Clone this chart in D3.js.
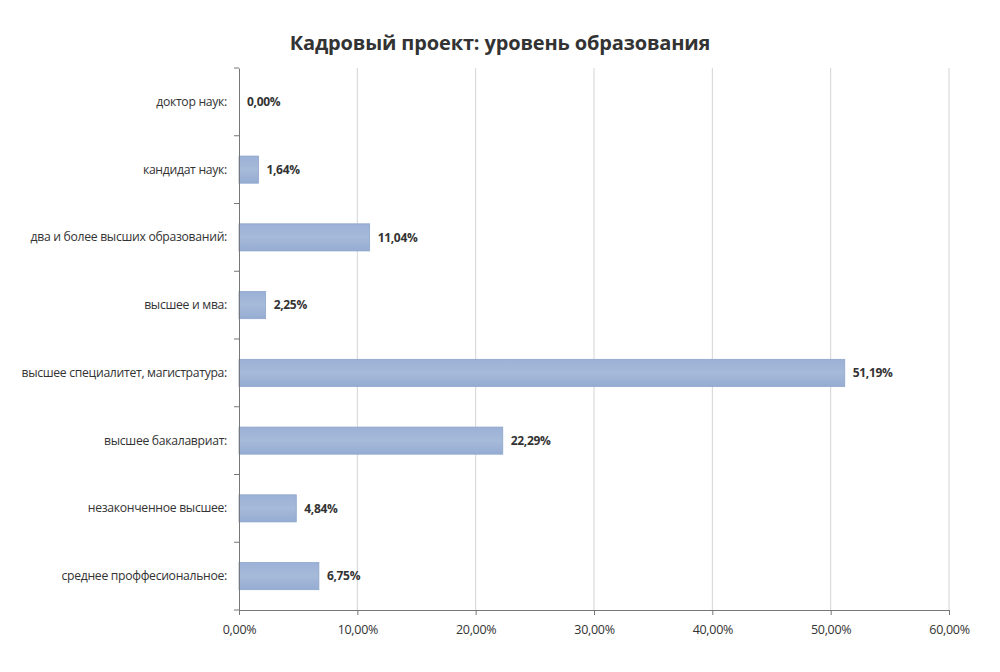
<!DOCTYPE html>
<html><head><meta charset="utf-8">
<script src="https://cdn.jsdelivr.net/npm/d3@7"></script>
<style>body{margin:0;background:#fff}svg{display:block}</style>
</head><body><svg id="c" width="1000" height="672"></svg>
<script>
const categories = ["доктор наук:","кандидат наук:","два и более высших образований:","высшее и мва:","высшее специалитет, магистратура:","высшее бакалавриат:","незаконченное высшее:","среднее проффесиональное:"];
const values = [0.00, 1.64, 11.04, 2.25, 51.19, 22.29, 4.84, 6.75];
const xTicks = [0, 10, 20, 30, 40, 50, 60];
const title = "Кадровый проект: уровень образования";

const loc = d3.formatLocale({decimal: ",", thousands: " ", grouping: [3], currency: ["", ""]});
const fmt = v => loc.format(".2f")(v) + "%";

const svg = d3.select("#c");
const font = "'Open Sans', 'Noto Sans', sans-serif";
const m = {l: 239, r: 949, t: 68, b: 610};
const x = d3.scaleLinear().domain([0, 60]).range([m.l, m.r]);
const y = d3.scaleBand().domain(categories).range([m.t, m.b]).paddingInner(0.6).paddingOuter(0.3);

svg.append("text").attr("x", 500).attr("y", 50).attr("text-anchor", "middle")
  .attr("font-family", font).attr("font-weight", "bold").attr("font-size", 20).attr("letter-spacing", -0.15).attr("fill", "#333")
  .text(title);

// gridlines
svg.append("g").selectAll("line").data(xTicks.slice(1)).join("line")
  .attr("x1", d => x(d)).attr("x2", d => x(d)).attr("y1", m.t).attr("y2", m.b)
  .attr("stroke", "#d4d4d8").attr("stroke-width", 1);

// bars
const defs = svg.append("defs");
const g = defs.append("linearGradient").attr("id", "bg").attr("x1", 0).attr("x2", 0).attr("y1", 0).attr("y2", 1);
g.append("stop").attr("offset", "0%").attr("stop-color", "#9bb1d6");
g.append("stop").attr("offset", "50%").attr("stop-color", "#a6bad9");
g.append("stop").attr("offset", "100%").attr("stop-color", "#95acd2");

svg.append("g").selectAll("rect").data(values).join("rect")
  .attr("x", x(0)).attr("y", (d, i) => y(categories[i]))
  .attr("width", d => x(d) - x(0)).attr("height", y.bandwidth())
  .attr("fill", "url(#bg)").attr("stroke", "#8ea5cc").attr("stroke-width", 0.8);

// value labels
svg.append("g").selectAll("text").data(values).join("text")
  .attr("x", d => x(d) + 8).attr("y", (d, i) => y(categories[i]) + y.bandwidth() / 2)
  .attr("dy", "0.35em").attr("font-family", font).attr("font-weight", "bold").attr("font-size", 12)
  .attr("letter-spacing", -0.3).attr("fill", "#333").text(d => fmt(d));

// x axis
const xAxis = d3.axisBottom(x).tickValues(xTicks).tickFormat(d => fmt(d)).tickSize(5).tickSizeOuter(0);
const gx = svg.append("g").attr("transform", `translate(0,${m.b})`).call(xAxis);
gx.select(".domain").attr("stroke", "#777");
gx.selectAll(".tick line").attr("stroke", "#777");
gx.selectAll(".tick text").attr("font-family", font).attr("font-size", 12.5).attr("letter-spacing", -0.3)
  .attr("fill", "#333").attr("dy", "1.25em");

// y axis
const yAxis = d3.axisLeft(y).tickSize(0).tickPadding(12);
const gy = svg.append("g").attr("transform", `translate(${m.l},0)`).call(yAxis);
gy.select(".domain").attr("stroke", "#777");
gy.selectAll(".tick text").attr("font-family", font).attr("font-size", 12.2).attr("letter-spacing", -0.3).attr("fill", "#333");
// boundary ticks
const step = (m.b - m.t) / categories.length;
svg.append("g").selectAll("line").data(d3.range(categories.length + 1)).join("line")
  .attr("x1", m.l - 5).attr("x2", m.l).attr("y1", i => m.t + i * step).attr("y2", i => m.t + i * step)
  .attr("stroke", "#777");
</script></body></html>
